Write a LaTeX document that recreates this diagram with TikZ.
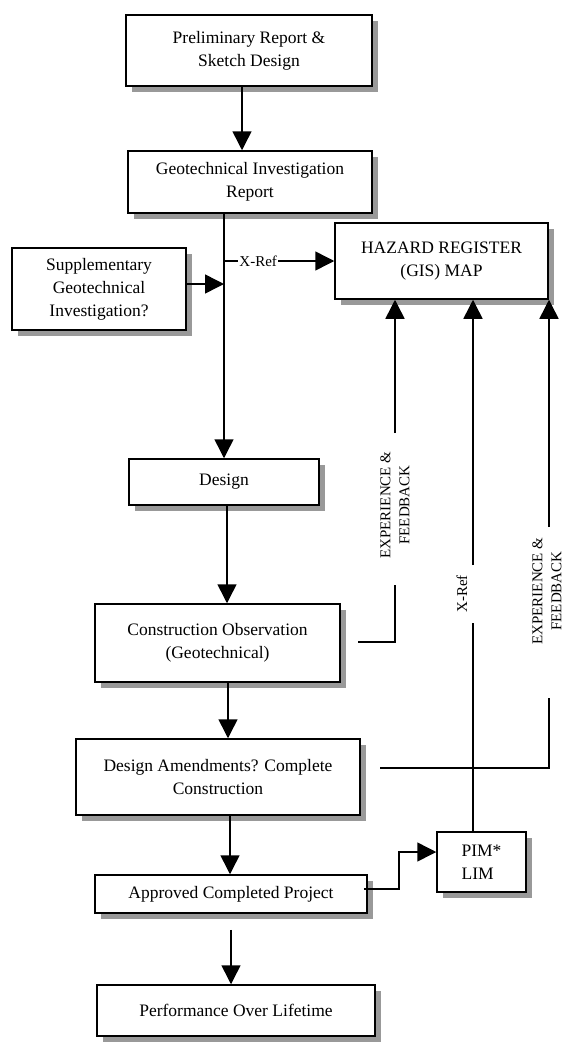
\documentclass[tikz,border=0pt]{standalone}
\usepackage{fontspec}
\setmainfont{Liberation Serif}
\usetikzlibrary{arrows.meta,shadows}
\begin{document}
\begin{tikzpicture}[x=1pt,y=-1pt,
  box/.style={draw, line width=1.5pt, fill=white, inner sep=0pt, align=center,
    font=\fontsize{17.5}{23}\selectfont,
    drop shadow={shadow xshift=6pt, shadow yshift=-6pt, fill=black!40, opacity=1}},
  conn/.style={line width=1.5pt},
  arr/.style={conn, -{Triangle[length=19pt,width=19pt]}},
  lbl/.style={font=\fontsize{15}{19}\selectfont, align=center, rotate=90, inner sep=0pt}]
\fill[white] (0,0) rectangle (563,1044);
\useasboundingbox (0,0) rectangle (563,1044);

\node[box, minimum width=246pt, minimum height=71pt] (prelim) at (249,50.5) {Preliminary Report \&\\Sketch Design};
\node[box, minimum width=244pt, minimum height=62pt] (geo) at (250,182) {Geotechnical Investigation\\Report};
\node[box, minimum width=174pt, minimum height=82pt] (supp) at (99,289) {Supplementary\\Geotechnical\\Investigation?};
\node[box, minimum width=213pt, minimum height=76pt] (haz) at (441.5,261) {HAZARD REGISTER\\(GIS) MAP};
\node[box, minimum width=190pt, minimum height=46pt] (design) at (224,482) {Design};
\node[box, minimum width=245pt, minimum height=78pt] (constr) at (217.5,643) {Construction Observation\\(Geotechnical)};
\node[box, minimum width=284pt, minimum height=76pt] (amend) at (218,777) {Design Amendments? Complete\\Construction};
\node[box, minimum width=272pt, minimum height=38pt] (appr) at (231,894) {Approved Completed Project};
\node[box, minimum width=278pt, minimum height=51pt] (perf) at (236,1010.5) {Performance Over Lifetime};
\node[box, minimum width=89pt, minimum height=60pt, align=left] (pim) at (481.5,862) {PIM*\\LIM};

% main spine
\draw[arr] ([xshift=-7pt]prelim.south) -- ([xshift=-7pt]prelim.south |- geo.north);
\draw[arr] (geo.south -| design.north) -- (design.north);
\coordinate (xr) at (224,261);
\draw[arr] (xr) -- node[pos=0.31, fill=white, inner sep=1pt, font=\fontsize{15}{19}\selectfont]{X-Ref} (haz.west);
\draw[arr] ([yshift=5pt]supp.east) -- ([yshift=5pt]supp.east -| xr);
\draw[arr] ([xshift=3pt]design.south) -- ([xshift=3pt]design.south |- constr.north);
\draw[arr] ([xshift=10.5pt]constr.south) -- ([xshift=10.5pt]constr.south |- amend.north);
\draw[arr] ([xshift=12pt]amend.south) -- ([xshift=12pt]amend.south |- appr.north);
\draw[arr, shorten <=16pt] (appr.south) -- (appr.south |- perf.north);

% feedback 1
\coordinate (f1a) at (358,642);
\coordinate (f1b) at (395,585);
\coordinate (f1c) at (395,433);
\draw[conn] (f1a) -| (f1b);
\node[lbl] (l1) at (395,505) {EXPERIENCE \&\\FEEDBACK};
\draw[arr] (f1c) -- (f1c |- haz.south);

% X-Ref from PIM
\coordinate (f2b) at (473,623);
\coordinate (f2c) at (473,565);
\draw[conn] (f2b |- pim.north) -- (f2b);
\node[lbl] (l2) at (462,594) {X-Ref};
\draw[arr] (f2c) -- (f2c |- haz.south);

% feedback 3
\coordinate (f3a) at (380,768);
\coordinate (f3b) at (549,698);
\coordinate (f3c) at (549,527);
\draw[conn] (f3a) -| (f3b);
\node[lbl] (l3) at (547,591) {EXPERIENCE \&\\FEEDBACK};
\draw[arr] (f3c) -- (f3c |- haz.south);

% approved -> PIM
\coordinate (pj) at (399,852);
\draw[arr] ([xshift=-4pt,yshift=5pt]appr.east) -| (pj) -- (pj -| pim.west);
\end{tikzpicture}
\end{document}
